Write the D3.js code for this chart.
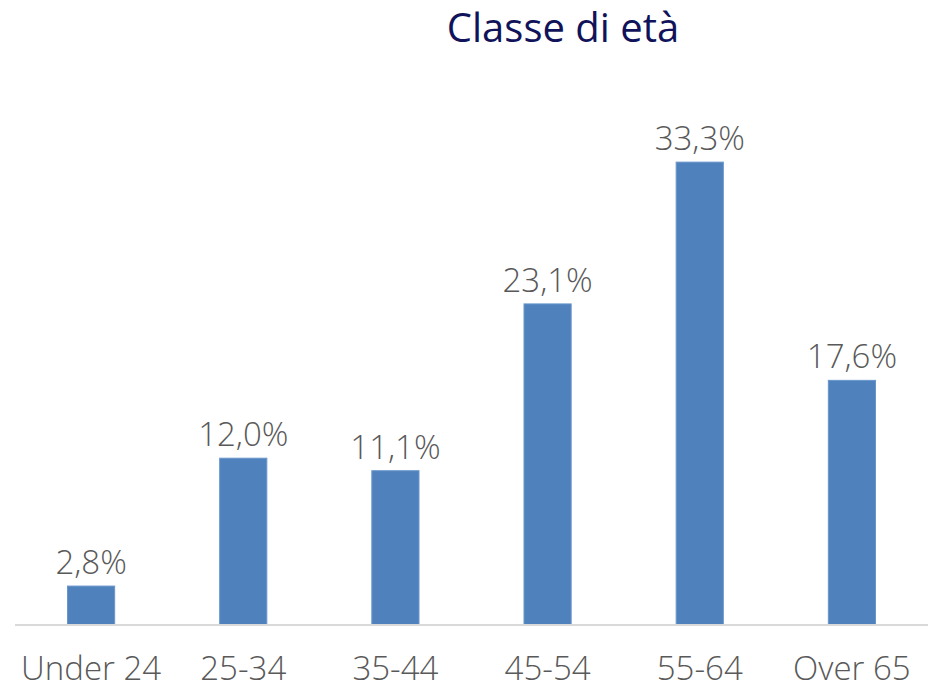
<!DOCTYPE html>
<html>
<head>
<meta charset="utf-8">
<script src="https://cdn.jsdelivr.net/npm/d3@7"></script>
<style>
    body { margin: 0; background: #fff; }
    text { font-family: "Open Sans", "Noto Sans", sans-serif; }
    .title { fill: #10135a; font-size: 40px; }
    .valLabel { fill: #595959; font-size: 33px; font-weight: 300; }
    .xLabel { fill: #595959; font-size: 33px; font-weight: 300; }
    .axis { stroke: #d9d9d9; stroke-width: 2; }
    .bar { fill: #4f81bd; stroke: #6a96cb; stroke-width: 1; }
</style>
</head>
<body>
<div id="scene"></div>
<script>
const categories = ['Under 24', '25-34', '35-44', '45-54', '55-64', 'Over 65'];
const percentages = [2.8, 12.0, 11.1, 23.1, 33.3, 17.6];
const chartTitle = 'Classe di età';

const width = 928;
const height = 689;
const baseline = 625;

const data = categories.map((c, i) => ({ category: c, value: percentages[i] }));

const xScale = d3.scaleBand()
    .domain(categories)
    .range([15, width])
    .paddingInner(0.69)
    .paddingOuter(0.345);

const yScale = d3.scaleLinear()
    .domain([0, 35])
    .range([baseline, baseline - 35 * 13.9]);

const svg = d3.select('#scene')
    .append('svg')
    .attr('width', width)
    .attr('height', height);

const chart = svg.append('g');

chart.append('text')
    .attr('class', 'title')
    .attr('x', 563)
    .attr('y', 42)
    .attr('text-anchor', 'middle')
    .text(chartTitle);

chart.selectAll('.bar')
    .data(data)
    .enter().append('rect')
    .attr('class', 'bar')
    .attr('x', d => xScale(d.category))
    .attr('y', d => yScale(d.value))
    .attr('width', xScale.bandwidth())
    .attr('height', d => baseline - yScale(d.value));

chart.append('line')
    .attr('class', 'axis')
    .attr('x1', 15)
    .attr('x2', width)
    .attr('y1', baseline)
    .attr('y2', baseline);

// value labels, italian decimal comma
chart.selectAll('.valLabel')
    .data(data)
    .enter().append('text')
    .attr('class', 'valLabel')
    .attr('x', d => xScale(d.category) + xScale.bandwidth() / 2)
    .attr('y', d => yScale(d.value) - 12)
    .attr('text-anchor', 'middle')
    .text(d => d.value.toFixed(1).replace('.', ',') + '%');

chart.selectAll('.xLabel')
    .data(categories)
    .enter().append('text')
    .attr('class', 'xLabel')
    .attr('x', d => xScale(d) + xScale.bandwidth() / 2)
    .attr('y', 680)
    .attr('text-anchor', 'middle')
    .text(String);
</script>
</body>
</html>
